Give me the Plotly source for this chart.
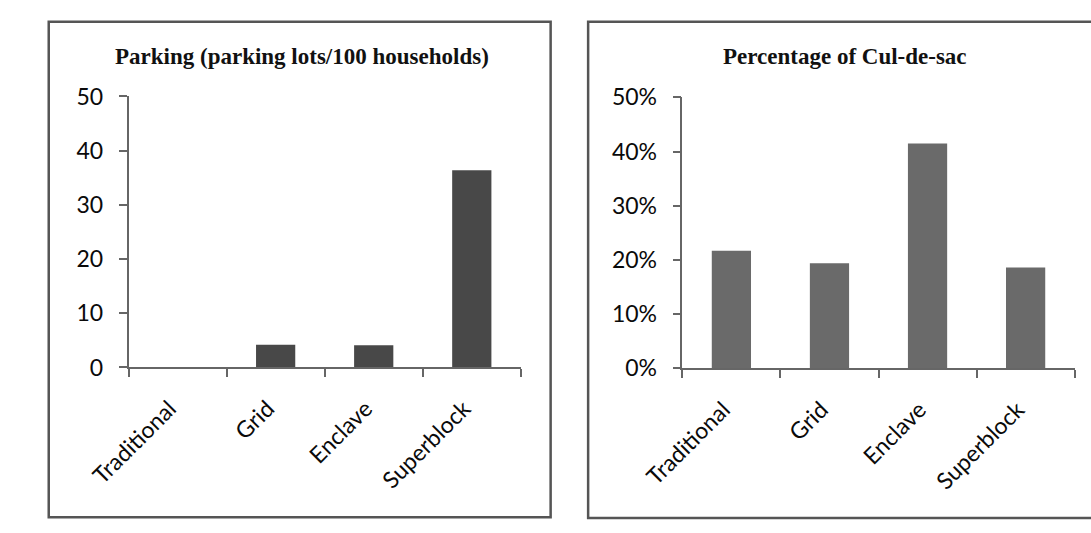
import plotly.graph_objects as go

W, H = 1091, 533

categories = ["Traditional", "Grid", "Enclave", "Superblock"]
parking_lots = [0, 4.2, 4.1, 36.4]             # parking lots per 100 households
culdesac_share = [0.217, 0.194, 0.415, 0.186]  # share of cul-de-sac streets

tick_font = dict(family="Lato, Open Sans, sans-serif", size=23, color="#0a0a0a")
xtick_font = dict(family="Lato, Open Sans, sans-serif", size=23, color="#0a0a0a")
title_font = dict(family="Liberation Serif, Times New Roman, serif", size=23, color="#111")


def px_x(v):
    return v / W


def px_y(v):
    return 1 - v / H


fig = go.Figure()

fig.add_trace(go.Bar(x=categories, y=parking_lots, width=0.4,
                     marker=dict(color="#484848", line=dict(width=0)),
                     xaxis="x", yaxis="y", showlegend=False))
fig.add_trace(go.Bar(x=categories, y=culdesac_share, width=0.4,
                     marker=dict(color="#6a6a6a", line=dict(width=0)),
                     xaxis="x2", yaxis="y2", showlegend=False))

axis_line = dict(showline=True, linecolor="#666", linewidth=1.5,
                 ticks="outside", ticklen=8, tickcolor="#666", tickwidth=1.5,
                 showgrid=False, zeroline=False)

xaxis_common = dict(tickangle=-45, tickson="boundaries", ticklabelstandoff=17,
                    ticklabelshift=-8, tickfont=xtick_font, **axis_line)
yaxis_common = dict(ticklabelstandoff=11, tickfont=tick_font, **axis_line)

fig.update_layout(
    width=W, height=H,
    margin=dict(l=0, r=0, t=0, b=0),
    paper_bgcolor="white", plot_bgcolor="white",
    xaxis=dict(domain=[px_x(90), px_x(498)], anchor="y", **xaxis_common),
    yaxis=dict(domain=[px_y(372), px_y(86)], anchor="x", range=[0, 50],
               dtick=10, **yaxis_common),
    xaxis2=dict(domain=[px_x(666), px_x(1074)], anchor="y2", **xaxis_common),
    yaxis2=dict(domain=[px_y(373), px_y(87)], anchor="x2", range=[0, 0.5],
                dtick=0.1, tickformat=".0%", **yaxis_common),
    annotations=[
        dict(text="<b>Parking (parking lots/100 households)</b>", x=px_x(270), y=px_y(44),
             xref="paper", yref="paper", showarrow=False, font=title_font,
             xanchor="center", yanchor="middle"),
        dict(text="<b>Percentage of Cul-de-sac</b>", x=px_x(835), y=px_y(44),
             xref="paper", yref="paper", showarrow=False, font=title_font,
             xanchor="center", yanchor="middle"),
    ],
    shapes=[
        dict(type="rect", xref="paper", yref="paper",
             x0=px_x(7), x1=px_x(529), y0=px_y(530), y1=px_y(7),
             line=dict(color="#555", width=2.5), fillcolor="rgba(0,0,0,0)"),
        dict(type="rect", xref="paper", yref="paper",
             x0=px_x(568), x1=px_x(1100), y0=px_y(531), y1=px_y(7),
             line=dict(color="#555", width=2.5), fillcolor="rgba(0,0,0,0)"),
    ],
)

fig.write_html("out.html")
